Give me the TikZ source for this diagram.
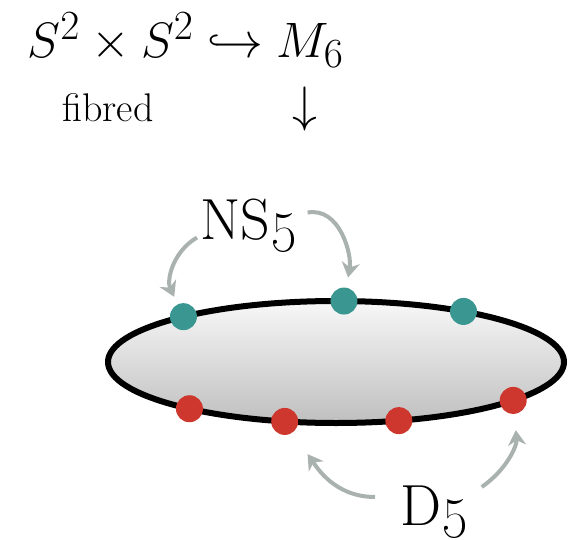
\documentclass[tikz,border=0pt]{standalone}
\usepackage{tikz}
\usetikzlibrary{arrows.meta,calc}
\definecolor{nsteal}{RGB}{58,150,145}
\definecolor{dred}{RGB}{205,55,45}
\definecolor{arrowgrey}{RGB}{170,178,176}
\tikzset{
  base/.style={inner sep=0pt, text=black},
  mathlbl/.style={base, font=\fontsize{28}{32}\selectfont},
  fiblbl/.style={base, font=\fontsize{20}{24}\selectfont},
  branelbl/.style={base, font=\fontsize{29}{32}\selectfont},
  brane/.style={circle, inner sep=0pt, minimum size=13.5pt, fill=#1},
  disc/.style={draw=black, line width=3pt, top color=white!97!black, bottom color=black!25},
  arr/.style={-{Stealth[length=7.5pt,width=9pt]}, line width=2pt, draw=arrowgrey},
}

\begin{document}
\begin{tikzpicture}[x=0.5pt,y=0.5pt]
  \useasboundingbox (0,0) rectangle (576,-539);
  \node[mathlbl,anchor=base west] (emb) at (27,-58) {$S^2\times S^2\hookrightarrow M_6$};
  \node[fiblbl,anchor=base west] (fib) at (62,-122) {fibred};
  \node[mathlbl] (down) at (305,-109) {$\downarrow$};
  % the disc with the branes on its rim
  \coordinate (c) at (336,-362);
  \draw[disc] (c) ellipse [x radius=228, y radius=61];
  \foreach \i/\a in {1/132,2/88,3/56}{\node[brane=nsteal] (n\i) at ($(c)+(\a:228 and 61)$) {};}
  \foreach \i/\a in {1/-130,2/-103,3/-74,4/-39}{\node[brane=dred] (d\i) at ($(c)+(\a:228 and 61)$) {};}
  \node[branelbl,anchor=base west] (ns) at (200,-240) {NS\oldstylenums{5}};
  \node[branelbl,anchor=base west] (dl) at (400,-525) {D\oldstylenums{5}};
  \draw[arr,shorten >=4pt] ([shift={(-3,-12)}]ns.west) to[out=210,in=115] (n1);
  \draw[arr,shorten >=5pt] ([shift={(10,13)}]ns.east) to[out=10,in=80] (n2);
  \draw[arr,shorten >=13pt] ([shift={(-25,14)}]dl.west) to[out=180,in=-55] (d2);
  \draw[arr,shorten >=8pt] ([shift={(13,24)}]dl.east) to[out=35,in=-85] (d4);
\end{tikzpicture}
\end{document}
